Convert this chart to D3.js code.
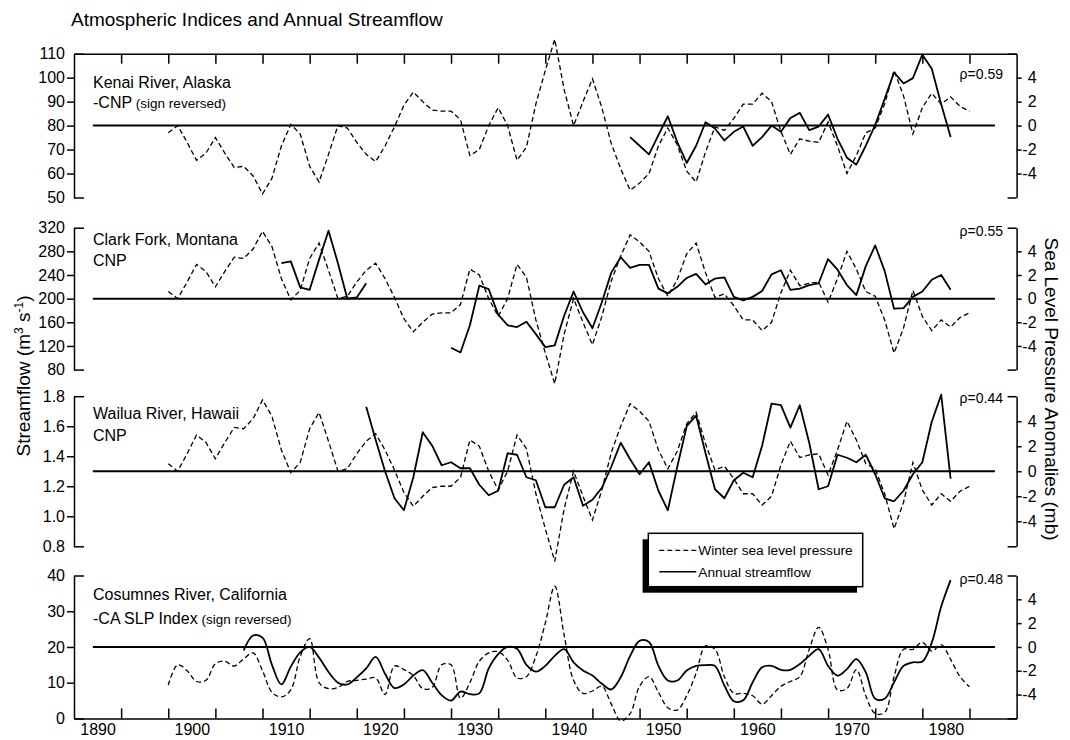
<!DOCTYPE html>
<html>
<head>
<meta charset="utf-8">
<script src="https://cdn.jsdelivr.net/npm/d3@7"></script>
<style>
	html, body { margin: 0; padding: 0; background: #fff; }
	svg { display: block; font-family: "Liberation Sans", Arial, sans-serif; }
	.axis path, .axis line { stroke: #000; stroke-width: 1.5; }
	.axis text { font-family: "Liberation Sans", Arial, sans-serif; font-size: 16px; fill: #000; }
	.zero-line { stroke: #000; stroke-width: 2; }
	.flow-line { fill: none; stroke: #000; stroke-width: 1.8; stroke-linejoin: round; }
	.slp-line { fill: none; stroke: #000; stroke-width: 1.3; stroke-dasharray: 5,3; }
</style>
</head>
<body>
<svg id="chart" width="1070" height="740"></svg>
<script>
window.app = window.app || {};

// values
var chartTitle = 'Atmospheric Indices and Annual Streamflow';
var yearTicks = [1895, 1900, 1905, 1910, 1915, 1920, 1925, 1930, 1935, 1940, 1945, 1950, 1955, 1960, 1965, 1970, 1975, 1980, 1985];
var decadeLabels = [1890, 1900, 1910, 1920, 1930, 1940, 1950, 1960, 1970, 1980];
var slpTicks = [-6, -4, -2, 0, 2, 4, 6];

// winter sea level pressure anomalies (mb), 1900-1985
var slpStartYear = 1900;
var cnpIndex = [
	0.6, 0, 1.4, 2.9, 2.3, 1.0, 2.3, 3.5, 3.4, 4.2,
	5.7, 4.4, 1.7, -0.1, 0.7, 3.4, 4.7, 2.4, 0, 0.2,
	1.4, 2.4, 3.0, 1.7, 0.1, -1.7, -2.8, -2.0, -1.3, -1.2,
	-1.2, -0.5, 2.5, 2.0, 0, -1.5, 0.0, 2.9, 1.8, -1.8,
	-4.6, -7.2, -3.0, 0, -2.0, -3.9, -1.5, 1.5, 3.6, 5.4,
	4.8, 4.0, 1.7, 0.2, 1.6, 3.8, 4.7, 2.2, 0.1, 0.4,
	-0.6, -1.8, -1.8, -2.7, -2.0, 0.5, 2.4, 1.1, 1.3, 1.4,
	-0.3, 1.7, 4.0, 2.5, 0.6, 0.2, -1.8, -4.6, -2.5, 0.7,
	-1.5, -2.7, -1.8, -2.4, -1.6, -1.2
];
var caSlpIndexReversed = [
	-3.2, -1.5, -2.0, -2.9, -2.8, -1.4, -1.2, -1.6, -1.0, -0.5,
	-2.0, -3.8, -4.2, -3.6, -0.8, 0.7, -3.0, -3.5, -3.4, -2.9,
	-2.8, -2.7, -2.6, -4.0, -1.6, -1.9, -2.4, -3.5, -3.4, -1.5,
	-1.5, -4.3, -3.0, -1.2, -0.5, -0.4, -1.1, -2.6, -2.5, -0.8,
	2.0, 5.1, 1.0, -2.8, -3.9, -3.7, -3.3, -4.8, -6.2, -5.6,
	-3.3, -2.5, -3.8, -5.1, -5.3, -4.1, -2.2, 0.1, -0.2, -2.5,
	-3.9, -3.9, -4.1, -4.8, -4.1, -3.3, -2.9, -2.5, -0.2, 1.65,
	-0.2, -3.6, -3.5, -1.9, -4.1, -5.6, -5.5, -2.5, -0.2, -0.2,
	0.4, -0.35, 0.2, -1.05, -2.5, -3.35
];

// annual streamflow (m3 s-1)
var kenaiStartYear = 1949;
var kenaiFlow = [
	75.2, 71.6, 68.0, 76.0, 83.9, 73.1, 64.4, 71.6, 81.4, 78.8,
	73.8, 77.4, 79.6, 71.6, 75.2, 80.0, 77.4, 83.2, 85.3, 78.1,
	79.6, 84.6, 74.5, 66.6, 63.7, 71.6, 80.3, 91.1, 102.2, 97.6,
	99.8, 109.6, 103.7, 88.9, 75.2
];
var clarkForkEarlyStartYear = 1912;
var clarkForkEarlyFlow = [260, 263, 219, 215, 266, 315, 260, 200, 202, 226];
var clarkForkStartYear = 1930;
var clarkForkFlow = [
	117, 109, 155, 222, 216, 173, 155, 152, 161, 140,
	118, 121, 171, 212, 177, 150, 194, 244, 270, 252,
	257, 257, 217, 209, 220, 235, 242, 224, 234, 236,
	203, 197, 203, 213, 241, 248, 215, 217, 223, 226,
	267, 249, 223, 206, 255, 290, 247, 183, 184, 203,
	212, 232, 240, 215
];
var wailuaStartYear = 1921;
var wailuaFlow = [
	1.73, 1.51, 1.30, 1.12, 1.04, 1.26, 1.56, 1.47, 1.34, 1.36,
	1.32, 1.32, 1.21, 1.14, 1.17, 1.42, 1.41, 1.26, 1.24, 1.06,
	1.06, 1.21, 1.26, 1.07, 1.11, 1.19, 1.33, 1.49, 1.38, 1.28,
	1.36, 1.17, 1.04, 1.33, 1.60, 1.67, 1.42, 1.18, 1.12, 1.24,
	1.29, 1.26, 1.47, 1.75, 1.74, 1.59, 1.74, 1.49, 1.18, 1.20,
	1.41, 1.39, 1.36, 1.41, 1.28, 1.12, 1.10, 1.17, 1.28, 1.36,
	1.63, 1.81, 1.25
];
var cosumnesStartYear = 1908;
var cosumnesFlow = [
	19.0, 23.2, 22.6, 15.0, 9.5, 14.5, 18.5, 20.0, 17.0, 13.0,
	10.0, 9.5, 11.5, 14.0, 17.2, 12.5, 8.5, 9.5, 12.0, 13.5,
	10.0, 6.5, 5.0, 7.5, 6.8, 7.0, 14.0, 18.0, 20.0, 19.5,
	15.0, 13.1, 14.7, 17.5, 19.4, 15.7, 13.4, 12.0, 9.7, 8.1,
	11.5, 17.5, 21.7, 21.4, 14.7, 10.6, 10.6, 13.4, 14.7, 14.9,
	14.7, 9.2, 4.8, 5.1, 10.1, 14.3, 14.7, 13.6, 13.6, 15.2,
	17.5, 19.4, 14.7, 12.0, 13.8, 16.6, 12.9, 5.5, 5.5, 10.1,
	14.7, 15.7, 15.9, 21.2, 31.3, 38.7
];

var riverNames = ['Kenai River, Alaska', 'Clark Fork, Montana', 'Wailua River, Hawaii', 'Cosumnes River, California'];
var indexNames = ['-CNP', 'CNP', 'CNP', '-CA SLP Index'];
var correlations = ['\u03c1=0.59', '\u03c1=0.55', '\u03c1=0.44', '\u03c1=0.48'];
var flowTicks = [
	[50, 60, 70, 80, 90, 100, 110],
	[80, 120, 160, 200, 240, 280, 320],
	[0.8, 1.0, 1.2, 1.4, 1.6, 1.8],
	[0, 10, 20, 30, 40]
];
var flowBaselines = [80, 200, 1.3, 20];
var legendLabels = ['Winter sea level pressure', 'Annual streamflow'];

app.streamflowChart = (function() {

	'use strict';

	/**
	* turn a start year and a list of values into {year, value} points
	* @returns {Array}
	*/
	var toPoints = function(startYear, values) {
		return values.map(function(v, i) {
			return {year: startYear + i, value: v};
		});
	};

	/**
	* draw the four stacked panels
	* @returns {undefined}
	*/
	var createChart = function() {
		var svg = d3.select('#chart'),
			xScale = d3.scaleLinear()
				.domain([1890, 1990])
				.range([74, 1016.6]),
			plotLeft = xScale.range()[0],
			plotRight = xScale.range()[1];

		// panel layout in px
		var layout = [
			{top: 53.7, bottom: 197.5, nameY: 88, indexY: 107.5, rhoY: 79},
			{top: 227.7, bottom: 369.6, nameY: 245, indexY: 265.5, rhoY: 235.7},
			{top: 396.2, bottom: 546.3, nameY: 418.6, indexY: 441, rhoY: 403.4},
			{top: 575.5, bottom: 718.4, nameY: 599.6, indexY: 623.5, rhoY: 584}
		];

		var slpSeries = [
			toPoints(slpStartYear, cnpIndex.map(function(v) { return -v; })),
			toPoints(slpStartYear, cnpIndex),
			toPoints(slpStartYear, cnpIndex),
			toPoints(slpStartYear, caSlpIndexReversed)
		];
		var flowSeries = [
			[toPoints(kenaiStartYear, kenaiFlow)],
			[toPoints(clarkForkEarlyStartYear, clarkForkEarlyFlow), toPoints(clarkForkStartYear, clarkForkFlow)],
			[toPoints(wailuaStartYear, wailuaFlow)],
			[toPoints(cosumnesStartYear, cosumnesFlow)]
		];

		// title
		svg.append('text')
			.attr('x', 71)
			.attr('y', 26)
			.attr('font-size', 19)
			.text(chartTitle);

		layout.forEach(function(p, i) {
			var ticks = flowTicks[i],
				domain = [ticks[0], ticks[ticks.length - 1]],
				yLeft = d3.scaleLinear().domain(domain).range([p.bottom, p.top]),
				ySlp = d3.scaleLinear().domain([-6, 6]).range([p.bottom, p.top]),
				curve = i === 3 ? d3.curveCatmullRom.alpha(0.5) : d3.curveLinear,
				fmt = i === 2 ? d3.format('.1f') : d3.format('d');

			var g = svg.append('g').attr('class', 'panel');

			// reference line
			g.append('line')
				.attr('class', 'zero-line')
				.attr('x1', xScale(1892))
				.attr('x2', xScale(1987.7))
				.attr('y1', yLeft(flowBaselines[i]))
				.attr('y2', yLeft(flowBaselines[i]));

			// winter SLP (dashed)
			var slpLine = d3.line()
				.curve(curve)
				.x(function(d) { return xScale(d.year); })
				.y(function(d) { return ySlp(d.value); });

			g.append('path')
				.datum(slpSeries[i])
				.attr('class', 'slp-line')
				.attr('d', slpLine);

			// annual streamflow (solid)
			var flowLine = d3.line()
				.curve(curve)
				.x(function(d) { return xScale(d.year); })
				.y(function(d) { return yLeft(d.value); });

			g.selectAll('.flow-line')
				.data(flowSeries[i])
				.enter()
				.append('path')
				.attr('class', 'flow-line')
				.attr('d', flowLine);

			// left axis
			var leftAxis = g.append('g')
				.attr('class', 'axis')
				.attr('transform', 'translate(' + plotLeft + ',0)')
				.call(d3.axisLeft(yLeft)
					.tickValues(ticks)
					.tickSize(7)
					.tickSizeOuter(0)
					.tickPadding(2)
					.tickFormat(fmt));

			leftAxis.selectAll('.tick line')
				.attr('x2', function(d) {
					return (d === domain[0] || d === domain[1]) ? 10 : -7;
				});

			// right axis
			var rightAxis = g.append('g')
				.attr('class', 'axis')
				.attr('transform', 'translate(' + plotRight + ',0)')
				.call(d3.axisRight(ySlp)
					.tickValues(slpTicks)
					.tickSize(5)
					.tickSizeOuter(0)
					.tickFormat(function(d) {
						return Math.abs(d) === 6 ? '' : String(d);
					}));

			rightAxis.selectAll('.tick line')
				.attr('x2', function(d) { return Math.abs(d) === 6 ? -9 : 5; });

			rightAxis.selectAll('.tick text')
				.attr('x', 20)
				.attr('text-anchor', 'end');

			// labels
			g.append('text')
				.attr('x', 93)
				.attr('y', p.nameY)
				.attr('font-size', 16)
				.text(riverNames[i]);

			var idx = g.append('text')
				.attr('x', 93)
				.attr('y', p.indexY)
				.attr('font-size', 16)
				.text(indexNames[i]);

			if (indexNames[i].charAt(0) === '-') {
				idx.append('tspan')
					.attr('font-size', 13.5)
					.text(' (sign reversed)');
			}

			g.append('text')
				.attr('x', 1003)
				.attr('y', p.rhoY)
				.attr('text-anchor', 'end')
				.attr('font-size', 14)
				.text(correlations[i]);
		});

		// top frame with 5-year ticks
		svg.append('g')
			.attr('class', 'axis')
			.attr('transform', 'translate(0,' + layout[0].top + ')')
			.call(d3.axisTop(xScale)
				.tickValues(yearTicks)
				.tickSize(-10)
				.tickSizeOuter(0)
				.tickFormat(''));

		// bottom axis with 5-year ticks
		svg.append('g')
			.attr('class', 'axis')
			.attr('transform', 'translate(0,' + layout[3].bottom + ')')
			.call(d3.axisBottom(xScale)
				.tickValues(yearTicks)
				.tickSize(-10)
				.tickSizeOuter(0)
				.tickFormat(''));

		// decade labels sit between the tick marks, as in the original
		var labelShift = xScale(1892.5) - xScale(1890);
		var labelAxis = svg.append('g')
			.attr('class', 'axis')
			.attr('transform', 'translate(' + labelShift + ',' + layout[3].bottom + ')')
			.call(d3.axisBottom(xScale)
				.tickValues(decadeLabels)
				.tickSize(0)
				.tickPadding(5)
				.tickFormat(d3.format('d')));
		labelAxis.select('.domain').remove();

		// axis titles
		var yTitle = svg.append('text')
			.attr('transform', 'translate(23,376) rotate(-90)')
			.attr('text-anchor', 'middle')
			.attr('y', 7)
			.attr('font-size', 19);
		yTitle.append('tspan').text('Streamflow (m');
		yTitle.append('tspan').attr('font-size', 12).attr('dy', -7).text('3');
		yTitle.append('tspan').attr('dy', 7).text(' s');
		yTitle.append('tspan').attr('font-size', 12).attr('dy', -7).text('-1');
		yTitle.append('tspan').attr('dy', 7).text(')');

		svg.append('text')
			.attr('transform', 'translate(1052,389) rotate(90)')
			.attr('text-anchor', 'middle')
			.attr('y', 7)
			.attr('font-size', 19)
			.text('Sea Level Pressure Anomalies (mb)');

		// legend with drop shadow
		var legend = svg.append('g').attr('transform', 'translate(648.3,533.3)');
		legend.append('rect')
			.attr('x', -5.7)
			.attr('y', 6)
			.attr('width', 214.4)
			.attr('height', 53.4)
			.attr('fill', '#000');
		legend.append('rect')
			.attr('width', 214.4)
			.attr('height', 53.4)
			.attr('fill', '#fff')
			.attr('stroke', '#000')
			.attr('stroke-width', 1.5);

		legendLabels.forEach(function(label, i) {
			var ly = 17 + i * 21.5;
			legend.append('line')
				.attr('class', i === 0 ? 'slp-line' : 'flow-line')
				.attr('x1', 11)
				.attr('x2', 48)
				.attr('y1', ly)
				.attr('y2', ly)
				.style('stroke-width', i === 0 ? 1.3 : 1.5);
			legend.append('text')
				.attr('x', 50)
				.attr('y', ly + 5)
				.attr('font-size', 13.7)
				.text(label);
		});
	};

	/**
	*
	* @returns {undefined}
	*/
	var init = function() {
		createChart();
	};

	return {
		init: init
	};

})();

app.streamflowChart.init();
</script>
</body>
</html>
